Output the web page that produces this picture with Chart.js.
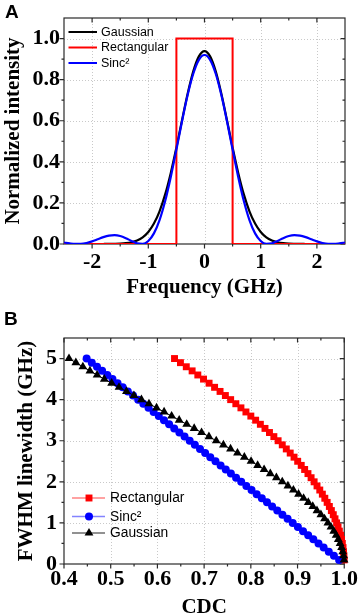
<!DOCTYPE html>
<html><head><meta charset="utf-8">
<script src="https://cdn.jsdelivr.net/npm/chart.js@4.4.1/dist/chart.umd.min.js"></script>
<style>
html,body{margin:0;padding:0;background:#fff;}
body{width:360px;height:616px;position:relative;overflow:hidden;}
canvas{position:absolute;left:0;}
#cA{top:0;} #cB{top:306px;}
.panel{position:absolute;font-family:"Liberation Sans",Arial,sans-serif;font-weight:bold;font-size:19px;line-height:19px;color:#000;z-index:5;}
</style></head><body>
<canvas id="cA" width="360" height="306" style="width:360px;height:306px"></canvas>
<canvas id="cB" width="360" height="310" style="width:360px;height:310px"></canvas>
<div class="panel" style="left:5px;top:2px">A</div>
<div class="panel" style="left:4px;top:309px">B</div>
<script>
// ---------- Panel A data ----------
const freqA = [-2.5,-2.4,-2.3,-2.2,-2.1,-2.0,-1.9,-1.8,-1.7,-1.6,-1.5,-1.4,-1.3,-1.2,-1.1,-1.0,-0.9,-0.8,-0.7,-0.6,-0.5,-0.4,-0.3,-0.2,-0.1,
  0,0.1,0.2,0.3,0.4,0.5,0.6,0.7,0.8,0.9,1.0,1.1,1.2,1.3,1.4,1.5,1.6,1.7,1.8,1.9,2.0,2.1,2.2,2.3,2.4,2.5];
const gaussA = [0,0,0,0,0,0,0,0.0001,0.0003,0.0008,0.0018,0.0041,0.0087,0.0173,0.0328,0.0587,0.0994,0.1593,0.2413,0.3461,0.4695,0.6026,0.7317,0.8404,0.9133,
  0.939,
  0.9133,0.8404,0.7317,0.6026,0.4695,0.3461,0.2413,0.1593,0.0994,0.0587,0.0328,0.0173,0.0087,0.0041,0.0018,0.0008,0.0003,0.0001,0,0,0,0,0,0,0];
const sincA = [0.0074,0.0031,0.0003,0.0006,0.0048,0.0128,0.0231,0.0335,0.0411,0.0433,0.0390,0.0285,0.0148,0.0032,0.0006,0.0146,0.0518,0.1165,0.2094,0.3266,0.4599,0.5974,0.7251,0.8288,0.8965,
  0.92,
  0.8965,0.8288,0.7251,0.5974,0.4599,0.3266,0.2094,0.1165,0.0518,0.0146,0.0006,0.0032,0.0148,0.0285,0.0390,0.0433,0.0411,0.0335,0.0231,0.0128,0.0048,0.0006,0.0003,0.0031,0.0074];
const rectFreqA = [-2.5,-0.5,-0.5,0.5,0.5,2.5];
const rectA = [0,0,1,1,0,0];
const xTicksA = [-2,-1,0,1,2];
const xTickLabelsA = ['-2','-1','0','1','2'];
const xMinorA = [-1.5,-0.5,0.5,1.5];
const yTicksA = [0,0.2,0.4,0.6,0.8,1.0];
const yTickLabelsA = ['0.0','0.2','0.4','0.6','0.8','1.0'];
const yMinorA = [0.1,0.3,0.5,0.7,0.9];

// ---------- Panel B data ----------
const fwhmB = [5.0,4.9,4.8,4.7,4.6,4.5,4.4,4.3,4.2,4.1,4.0,3.9,3.8,3.7,3.6,3.5,3.4,3.3,3.2,3.1,3.0,2.9,2.8,2.7,2.6,
  2.5,2.4,2.3,2.2,2.1,2.0,1.9,1.8,1.7,1.6,1.5,1.4,1.3,1.2,1.1,1.0,0.9,0.8,0.7,0.6,0.5,0.4,0.3,0.2,0.1];
const rectCDC = [0.6366,0.6493,0.6618,0.6743,0.6865,0.6987,0.7106,0.7224,0.7341,0.7455,
  0.7568,0.7679,0.7788,0.7895,0.8000,0.8103,0.8204,0.8303,0.8399,0.8493,
  0.8584,0.8673,0.8759,0.8843,0.8925,0.9003,0.9079,0.9152,0.9223,0.9290,
  0.9355,0.9417,0.9476,0.9531,0.9584,0.9634,0.9681,0.9724,0.9765,0.9802,
  0.9836,0.9867,0.9895,0.9920,0.9941,0.9959,0.9974,0.9985,0.9993,0.9998];
const sincCDC = [0.4485,0.4595,0.4706,0.4816,0.4926,0.5037,0.5147,0.5257,0.5367,0.5478,
  0.5588,0.5698,0.5809,0.5919,0.6029,0.6140,0.6250,0.6360,0.6470,0.6581,
  0.6691,0.6801,0.6912,0.7022,0.7132,0.7243,0.7353,0.7463,0.7573,0.7684,
  0.7794,0.7904,0.8015,0.8125,0.8235,0.8346,0.8456,0.8566,0.8676,0.8787,
  0.8897,0.9007,0.9118,0.9228,0.9338,0.9449,0.9559,0.9669,0.9779,0.9890];
const gaussCDC = [0.4107,0.4254,0.4404,0.4555,0.4709,0.4863,0.5020,0.5178,0.5337,0.5497,
  0.5658,0.5819,0.5981,0.6143,0.6304,0.6466,0.6627,0.6787,0.6945,0.7103,
  0.7259,0.7413,0.7565,0.7714,0.7861,0.8005,0.8146,0.8284,0.8417,0.8547,
  0.8673,0.8794,0.8911,0.9022,0.9129,0.9230,0.9326,0.9416,0.9500,0.9578,
  0.9650,0.9716,0.9775,0.9827,0.9873,0.9911,0.9943,0.9968,0.9986,0.9996];
const xTicksB = [0.4,0.5,0.6,0.7,0.8,0.9,1.0];
const xTickLabelsB = ['0.4','0.5','0.6','0.7','0.8','0.9','1.0'];
const xMinorB = [0.45,0.55,0.65,0.75,0.85,0.95];
const yTicksB = [0,1,2,3,4,5];
const yTickLabelsB = ['0','1','2','3','4','5'];
const yMinorB = [0.5,1.5,2.5,3.5,4.5];

// ---------- shared styling ----------
const SERIF = "'Liberation Serif','Times New Roman',serif";
const SANS = "'Liberation Sans',Arial,sans-serif";
const tickFont = {family: SERIF, weight: 'bold', size: 22};
const titleFont = {family: SERIF, weight: 'bold', size: 21};

const axisDeco = {
  id: 'axisDeco',
  beforeDatasetsDraw(chart, args, o) {
    const {ctx, chartArea: a, scales: {x, y}} = chart;
    ctx.save();
    ctx.strokeStyle = '#c9c9c9'; ctx.lineWidth = 1; ctx.setLineDash([1, 2]);
    ctx.beginPath();
    x.ticks.forEach(t => { const p = Math.round(x.getPixelForValue(t.value)) + 0.5; if (p > a.left + 1 && p < a.right - 1) { ctx.moveTo(p, a.top); ctx.lineTo(p, a.bottom); } });
    y.ticks.forEach(t => { const p = Math.round(y.getPixelForValue(t.value)) + 0.5; if (p > a.top + 1 && p < a.bottom - 1) { ctx.moveTo(a.left, p); ctx.lineTo(a.right, p); } });
    ctx.stroke();
    ctx.setLineDash([]);
    ctx.strokeStyle = '#2a2a2a'; ctx.lineWidth = 1.2;
    ctx.beginPath();
    const M = 4.5, m = 2.5;
    const xt = (v, L) => { const p = x.getPixelForValue(v); ctx.moveTo(p, a.bottom); ctx.lineTo(p, a.bottom + L); ctx.moveTo(p, a.top); ctx.lineTo(p, a.top + L); };
    const yt = (v, L) => { const p = y.getPixelForValue(v); ctx.moveTo(a.left, p); ctx.lineTo(a.left - L, p); ctx.moveTo(a.right, p); ctx.lineTo(a.right - L, p); };
    x.ticks.forEach(t => xt(t.value, M));
    o.minorX.forEach(v => xt(v, m));
    y.ticks.forEach(t => yt(t.value, M));
    o.minorY.forEach(v => yt(v, m));
    ctx.stroke();
    ctx.strokeRect(a.left, a.top, a.right - a.left, a.bottom - a.top);
    ctx.restore();
  }
};

function drawMarker(ctx, style, x, y, r, color) {
  ctx.fillStyle = color;
  ctx.beginPath();
  if (style === 'rect') { const s = r * Math.SQRT1_2; ctx.rect(x - s, y - s, 2 * s, 2 * s); }
  else if (style === 'circle') { ctx.arc(x, y, r, 0, Math.PI * 2); }
  else if (style === 'triangle') { ctx.moveTo(x, y - r); ctx.lineTo(x + r * 0.866, y + r * 0.5); ctx.lineTo(x - r * 0.866, y + r * 0.5); ctx.closePath(); }
  ctx.fill();
}

const legendDeco = {
  id: 'legendDeco',
  afterDatasetsDraw(chart, args, o) {
    const {ctx, chartArea: a} = chart;
    ctx.save();
    o.order.forEach((label, i) => {
      const ds = chart.data.datasets.find(d => d.label === label);
      const yy = (o.fromBottom ? a.bottom : a.top) + o.ys[i];
      ctx.strokeStyle = o.lineColors ? o.lineColors[i] : ds.borderColor;
      ctx.lineWidth = o.lineWidth;
      ctx.beginPath(); ctx.moveTo(a.left + o.x0, yy); ctx.lineTo(a.left + o.x1, yy); ctx.stroke();
      if (ds.pointStyle && o.markers) drawMarker(ctx, ds.pointStyle, a.left + o.xm, yy, ds.pointRadius, ds.pointBackgroundColor);
      ctx.fillStyle = '#000'; ctx.font = o.font; ctx.textBaseline = 'middle'; ctx.textAlign = 'left';
      ctx.fillText(label, a.left + o.xt, yy + 0.5);
    });
    ctx.restore();
  }
};

// ---------- Chart A ----------
new Chart(document.getElementById('cA'), {
  type: 'line',
  data: {
    datasets: [
      {label: 'Sinc\u00B2', data: freqA.map((f, i) => ({x: f, y: sincA[i]})), borderColor: '#0000ff', borderWidth: 2.2, pointRadius: 0, cubicInterpolationMode: 'monotone', fill: false},
      {label: 'Rectangular', data: rectFreqA.map((f, i) => ({x: f, y: rectA[i]})), borderColor: '#ff0000', borderWidth: 2, pointRadius: 0, tension: 0, fill: false},
      {label: 'Gaussian', data: freqA.map((f, i) => ({x: f, y: gaussA[i]})), borderColor: '#000000', borderWidth: 2.2, pointRadius: 0, cubicInterpolationMode: 'monotone', fill: false}
    ]
  },
  options: {
    responsive: false, animation: false, devicePixelRatio: 1,
    layout: {padding: {left: 0, top: 18, right: 15, bottom: 0}},
    plugins: {
      legend: {display: false}, tooltip: {enabled: false},
      axisDeco: {minorX: xMinorA, minorY: yMinorA},
      legendDeco: {order: ['Gaussian', 'Rectangular', 'Sinc\u00B2'], ys: [14, 29.5, 45], x0: 4.5, x1: 33, xt: 37, lineWidth: 2, font: "12.5px " + SANS, markers: false}
    },
    scales: {
      x: {
        type: 'linear', min: -2.5, max: 2.5,
        afterBuildTicks: s => { s.ticks = xTicksA.map(v => ({value: v})); },
        afterFit: s => { s.height = 62; },
        ticks: {callback: (v, i) => xTickLabelsA[i], font: tickFont, color: '#000', padding: 5, maxRotation: 0, autoSkip: false},
        grid: {display: false, drawTicks: false}, border: {display: false},
        title: {display: true, text: 'Frequency (GHz)', font: titleFont, color: '#000', padding: {top: 0, bottom: 6}}
      },
      y: {
        type: 'linear', min: 0, max: 1.1,
        afterBuildTicks: s => { s.ticks = yTicksA.map(v => ({value: v})); },
        afterFit: s => { s.width = 64; },
        ticks: {callback: (v, i) => yTickLabelsA[i], font: tickFont, color: '#000', padding: 4, autoSkip: false},
        grid: {display: false, drawTicks: false}, border: {display: false},
        title: {display: true, text: 'Normalized intensity', font: titleFont, color: '#000', padding: {top: 1, bottom: 0}}
      }
    }
  },
  plugins: [axisDeco, legendDeco]
});

// ---------- Chart B ----------
new Chart(document.getElementById('cB'), {
  type: 'scatter',
  data: {
    datasets: [
      {label: 'Gaussian', data: fwhmB.map((w, i) => ({x: gaussCDC[i], y: w})), pointStyle: 'triangle', pointRadius: 5.1, pointBackgroundColor: '#000000', pointBorderWidth: 0, borderColor: '#000000', showLine: true, borderWidth: 1, clip: false},
      {label: 'Sinc\u00B2', data: fwhmB.map((w, i) => ({x: sincCDC[i], y: w})), pointStyle: 'circle', pointRadius: 4, pointBackgroundColor: '#0000ff', pointBorderWidth: 0, borderColor: '#0000ff', showLine: true, borderWidth: 1, clip: false},
      {label: 'Rectangular', data: fwhmB.map((w, i) => ({x: rectCDC[i], y: w})), pointStyle: 'rect', pointRadius: 4.9, pointBackgroundColor: '#ff0000', pointBorderWidth: 0, borderColor: '#ff0000', showLine: true, borderWidth: 1, clip: false}
    ]
  },
  options: {
    responsive: false, animation: false, devicePixelRatio: 1,
    layout: {padding: {left: 0, top: 32, right: 15, bottom: 0}},
    plugins: {
      legend: {display: false}, tooltip: {enabled: false},
      axisDeco: {minorX: xMinorB, minorY: yMinorB},
      legendDeco: {order: ['Rectangular', 'Sinc\u00B2', 'Gaussian'], fromBottom: true, ys: [-66, -47.5, -31], x0: 8, x1: 41, xm: 25, xt: 46, lineWidth: 1.3,
        lineColors: ['rgba(255,90,90,0.75)', 'rgba(90,90,255,0.75)', 'rgba(60,60,60,0.75)'], font: "13.8px " + SANS, markers: true}
    },
    scales: {
      x: {
        type: 'linear', min: 0.4, max: 1.0,
        afterBuildTicks: s => { s.ticks = xTicksB.map(v => ({value: v})); },
        afterFit: s => { s.height = 52; },
        ticks: {callback: (v, i) => xTickLabelsB[i], font: tickFont, color: '#000', padding: 2, maxRotation: 0, autoSkip: false},
        grid: {display: false, drawTicks: false}, border: {display: false},
        title: {display: true, text: 'CDC', font: {family: SERIF, weight: 'bold', size: 21, lineHeight: 0.8}, color: '#000', padding: {top: 0, bottom: 0}}
      },
      y: {
        type: 'linear', min: 0, max: 5.5,
        afterBuildTicks: s => { s.ticks = yTicksB.map(v => ({value: v})); },
        afterFit: s => { s.width = 64; },
        ticks: {callback: (v, i) => yTickLabelsB[i], font: tickFont, color: '#000', padding: 7, autoSkip: false},
        grid: {display: false, drawTicks: false}, border: {display: false},
        title: {display: true, text: 'FWHM linewidth (GHz)', font: titleFont, color: '#000', padding: {top: 14, bottom: 0}}
      }
    }
  },
  plugins: [axisDeco, legendDeco]
});
</script>
</body></html>
